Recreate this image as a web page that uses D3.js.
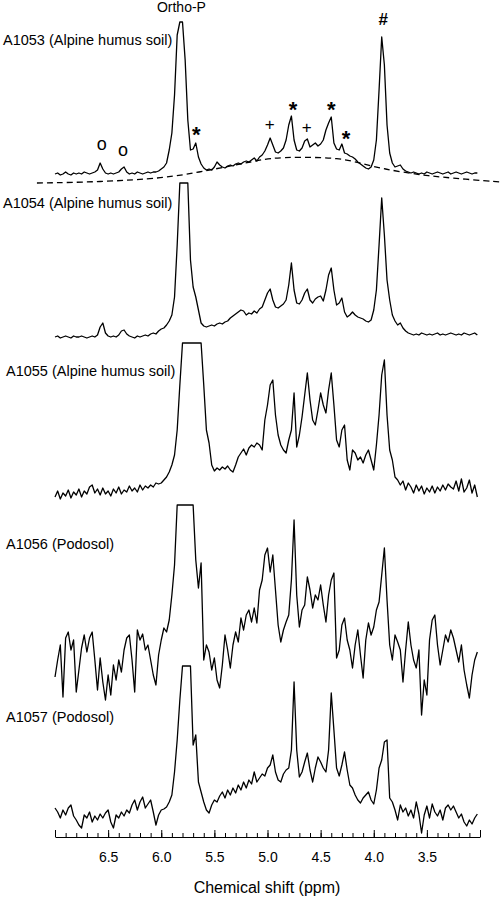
<!DOCTYPE html>
<html>
<head>
<meta charset="utf-8">
<script src="https://cdn.jsdelivr.net/npm/d3@7"></script>
<style>
  body { margin: 0; background: #fff; }
  text { font-family: "Liberation Sans", Arial, Helvetica, sans-serif; fill: #000; }
</style>
</head>
<body>
<div class="chart"></div>
<script>
// spectra sampled every 0.025 ppm starting at 7.0 ppm (intensity, arbitrary units)
var ppmStart = 7.0;
var ppmStep = 0.025;

var sampleNames = ['A1053 (Alpine humus soil)', 'A1054 (Alpine humus soil)', 'A1055 (Alpine humus soil)', 'A1056 (Podosol)', 'A1057 (Podosol)'];

var a1053 = [11,12,10,11,13,11,10,12,11,12,11,13,12,11,12,13,15,
  22,16,12,11,12,11,12,13,16,18,13,11,12,11,13,12,11,12,13,12,13,13,14,
  16,18,22,35,52,90,150,163,163,125,65,35,36,42,28,21,17,15,16,15,18,
  23,20,18,17,19,20,19,21,22,21,23,24,23,25,27,24,28,30,34,40,
  47,40,33,32,34,37,45,60,69,45,35,34,37,44,46,38,40,42,39,41,
  45,55,62,68,42,36,35,41,32,31,29,28,26,23,21,19,17,16,18,25,
  45,95,148,120,60,32,22,18,19,20,16,14,13,12,13,12,11,12,11,13,
  12,11,12,13,12,11,12,13,11,12,13,12,11,12,13,12,11,12,12];

var a1054 = [8,9,7,8,9,8,7,9,8,8,9,8,7,8,9,8,10,
  18,22,12,9,8,9,8,10,14,15,11,9,8,7,9,8,9,10,9,11,12,11,14,16,
  17,20,24,30,48,100,162,162,162,162,85,58,48,35,22,19,18,19,20,19,
  21,22,21,23,24,27,29,31,33,35,34,30,32,31,34,32,36,38,45,52,
  56,45,38,37,39,41,45,60,82,55,42,41,45,52,56,45,42,46,48,49,
  44,55,70,77,55,40,42,47,33,28,30,33,30,28,27,26,24,23,25,35,
  55,100,147,110,65,45,30,24,20,22,17,14,12,11,10,11,10,12,11,10,
  11,10,11,12,10,11,10,11,12,11,10,11,10,12,11,10,11,12,10];

var a1055 = [8,14,6,12,9,15,7,13,10,16,8,14,11,18,20,12,16,10,17,11,14,
  9,16,12,18,11,15,13,19,14,17,13,20,15,19,17,20,18,22,21,22,
  25,28,33,40,50,75,120,162,162,162,162,162,162,162,162,120,75,62,40,34,
  37,35,38,36,39,35,33,40,48,52,56,50,57,60,58,62,60,55,85,100,
  120,125,90,70,60,55,52,65,75,112,58,70,88,110,132,105,85,80,95,112,
  100,92,115,132,100,65,58,75,80,45,35,55,52,45,48,42,50,55,45,35,
  60,90,130,145,90,55,45,28,25,20,24,15,22,18,12,20,14,19,11,17,
  13,19,12,18,14,20,15,21,18,16,24,14,26,13,17,25,12,20,8];

var a1056 = [43,60,75,23,82,88,70,80,28,50,72,85,68,82,88,60,30,62,38,20,45,
  25,55,40,60,48,70,82,85,60,28,90,80,86,70,75,60,45,35,65,80,
  92,88,100,125,155,215,215,215,215,215,215,215,160,132,157,60,75,68,50,62,
  40,32,55,85,70,52,75,88,78,102,90,105,110,98,112,97,130,140,165,172,
  148,165,130,95,78,90,98,105,140,200,125,93,110,115,143,130,112,125,120,135,
  115,98,125,140,147,62,70,95,102,80,70,52,75,90,65,42,80,97,85,93,
  110,118,145,172,120,75,60,85,78,70,38,70,98,75,60,52,70,5,40,25,
  80,100,105,75,55,70,85,78,90,82,70,58,75,50,35,22,45,60,68];

var a1057 = [32,28,22,30,25,32,35,24,20,15,12,25,22,28,18,24,20,26,22,27,30,
  18,12,25,22,28,24,30,27,35,40,30,38,43,32,36,40,28,15,25,30,
  31,33,38,45,68,100,140,174,174,174,174,95,105,58,48,38,30,27,35,40,
  38,44,48,42,50,45,52,47,55,50,58,52,60,56,68,58,62,66,64,72,
  75,85,68,60,58,66,70,72,90,158,90,63,68,78,87,70,58,72,83,78,
  72,68,90,147,110,72,64,75,88,70,55,52,45,40,37,42,45,48,40,36,
  50,72,80,98,100,42,38,30,20,35,28,32,24,30,22,38,26,7,25,34,
  22,36,28,24,30,20,32,35,30,34,28,22,26,18,14,20,16,22,26];

// broad baseline under A1053 as [ppm, intensity]
var baseline1053 = [[7.17,2],[6.58,3],[5.96,7],[5.64,13],[5.35,19],[5.16,23],[4.98,27],
  [4.69,28],[4.32,27],[4.13,22],[3.91,16],[3.56,10],[3.28,7],[2.81,3]];

// peak annotations on A1053
var markerPpm = [6.56, 6.36, 5.67, 4.98, 4.76, 4.63, 4.40, 4.26, 3.91, 5.81];
var markerHeight = [39, 33, 57, 61, 82, 58, 82, 53, 166, 178];
var markerSymbol = ['o', 'o', '*', '+', '*', '+', '*', '*', '#', 'Ortho-P'];

var tickLabels = [6.5, 6.0, 5.5, 5.0, 4.5, 4.0, 3.5];

var spectra = [a1053, a1054, a1055, a1056, a1057];

// layout
var width = 500, height = 897;
var panelBase = [185, 345, 505, 720, 840];
var labelPos = [[3, 45], [3, 208], [6, 376], [6, 549], [6, 722]];
var axisY = 837;

var svg = d3.select('.chart').append('svg')
  .attr('width', width)
  .attr('height', height);

var x = d3.scaleLinear().domain([7.0, 3.0]).range([55, 480]);

var yFor = function (i) {
  return d3.scaleLinear().domain([0, 200]).range([panelBase[i], panelBase[i] - 200]);
};

spectra.forEach(function (values, i) {
  var y = yFor(i);
  var line = d3.line()
    .x(function (d, j) { return x(ppmStart - j * ppmStep); })
    .y(function (d) { return y(d); });

  svg.append('path')
    .datum(values)
    .attr('d', line)
    .attr('fill', 'none')
    .attr('stroke', '#000')
    .attr('stroke-width', 1.3)
    .attr('stroke-linejoin', 'round');

  svg.append('text')
    .attr('x', labelPos[i][0])
    .attr('y', labelPos[i][1])
    .attr('font-size', 14.5)
    .text(sampleNames[i]);
});

// dashed baseline
var y0 = yFor(0);
svg.append('path')
  .datum(baseline1053)
  .attr('d', d3.line()
    .curve(d3.curveBasis)
    .x(function (d) { return x(d[0]); })
    .y(function (d) { return y0(d[1]); }))
  .attr('fill', 'none')
  .attr('stroke', '#000')
  .attr('stroke-width', 1.3)
  .attr('stroke-dasharray', '6,4');

var markerSize = function (d) {
  if (d === 'Ortho-P') return 14;
  if (d === '*') return 22;
  if (d === 'o') return 18;
  return 17;
};

svg.selectAll('.marker')
  .data(markerSymbol)
  .enter()
  .append('text')
  .attr('class', 'marker')
  .attr('x', function (d, i) { return x(markerPpm[i]); })
  .attr('y', function (d, i) { return y0(markerHeight[i]); })
  .attr('text-anchor', 'middle')
  .attr('dominant-baseline', 'central')
  .attr('dy', function (d) { return d === '*' ? '0.3em' : (d === 'o' ? '-0.1em' : 0); })
  .attr('font-size', markerSize)
  .attr('font-weight', function (d) { return d === '*' || d === '#' ? 'bold' : null; })
  .text(function (d) { return d; });

// x axis: labelled majors, unlabelled minors, ticks pointing up
var minorTicks = d3.range(70, 29, -1).map(function (v) { return v / 10; });

svg.append('g')
  .attr('transform', 'translate(0,' + axisY + ')')
  .call(d3.axisBottom(x).tickValues(minorTicks).tickSizeInner(-4).tickSizeOuter(0).tickFormat(''))
  .call(function (g) {
    g.select('.domain').attr('stroke-width', 1.2);
  });

svg.append('g')
  .attr('transform', 'translate(0,' + axisY + ')')
  .call(d3.axisBottom(x).tickValues([7.0].concat(tickLabels, [3.0])).tickSizeInner(-7).tickSizeOuter(0).tickPadding(15)
    .tickFormat(function (d) { return tickLabels.indexOf(d) >= 0 ? d3.format('.1f')(d) : ''; }))
  .call(function (g) {
    g.select('.domain').remove();
    g.selectAll('text').attr('font-size', 14).attr('font-family', null);
  });

svg.append('text')
  .attr('x', 267)
  .attr('y', 893)
  .attr('text-anchor', 'middle')
  .attr('font-size', 16)
  .text('Chemical shift (ppm)');
</script>
</body>
</html>
